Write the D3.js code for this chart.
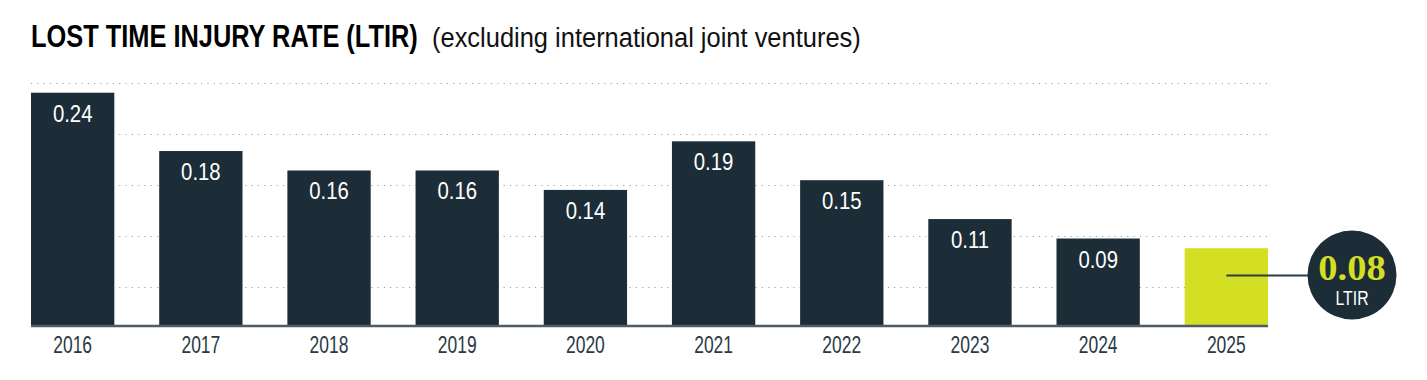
<!DOCTYPE html>
<html>
<head>
<meta charset="utf-8">
<script src="https://cdn.jsdelivr.net/npm/d3@7"></script>
<style>
  body { margin: 0; background: #fff; }
  svg { display: block; }
</style>
</head>
<body>
<div id="chart"></div>
<script>
const years = ["2016", "2017", "2018", "2019", "2020", "2021", "2022", "2023", "2024", "2025"];
const ltir = [0.24, 0.18, 0.16, 0.16, 0.14, 0.19, 0.15, 0.11, 0.09, 0.08];
const gridValues = [0.04, 0.0925, 0.145, 0.1975, 0.25];
const currentValue = "0.08";
const currentLabel = "LTIR";

const width = 1427, height = 380;
const sans = "'Liberation Sans', Arial, sans-serif";
const navy = "#1c2d37";
const lime = "#d4de22";

const svg = d3.select("#chart").append("svg")
    .attr("width", width)
    .attr("height", height);

// no condensed face installed: place text at (x,y) and squeeze it horizontally
function squeezed(parent, px, py, sx) {
    return parent.append("g")
        .attr("transform", `translate(${px},${py}) scale(${sx},1)`)
        .append("text");
}
// squeeze to an exact pixel width, anchored left
function fitWidth(parent, px, py, w, style) {
    const g = parent.append("g").attr("transform", `translate(${px},${py})`);
    const t = g.append("text").call(style);
    const len = t.node().getComputedTextLength();
    g.attr("transform", `translate(${px},${py}) scale(${w / len},1)`);
    return t;
}

// title
fitWidth(svg, 31, 47, 387, t => t
    .attr("font-family", sans)
    .attr("font-weight", "bold")
    .attr("font-size", 30.5)
    .attr("fill", "#000")
    .text("LOST TIME INJURY RATE (LTIR)"));
fitWidth(svg, 432, 47, 429, t => t
    .attr("font-family", sans)
    .attr("font-size", 28)
    .attr("fill", "#111")
    .text("(excluding international joint ventures)"));

const x = d3.scaleBand().domain(years).range([31, 1268]).paddingInner(0.35).paddingOuter(0);
const y = d3.scaleLinear().domain([0, 0.25]).range([326, 83]);

// dotted grid
svg.append("g")
    .selectAll("line")
    .data(gridValues)
    .join("line")
    .attr("x1", 31)
    .attr("x2", 1268)
    .attr("y1", d => Math.round(y(d)) + 0.5)
    .attr("y2", d => Math.round(y(d)) + 0.5)
    .attr("stroke", "#9aa3a8")
    .attr("stroke-width", 1)
    .attr("stroke-dasharray", "1.2 5.1");

// bars
svg.append("g")
    .selectAll("rect")
    .data(ltir)
    .join("rect")
    .attr("x", (d, i) => x(years[i]))
    .attr("y", d => y(d))
    .attr("width", x.bandwidth())
    .attr("height", d => y(0) - y(d))
    .attr("fill", (d, i) => i === years.length - 1 ? lime : navy);

// value labels (not on last bar)
svg.append("g")
    .selectAll("g")
    .data(ltir.slice(0, -1))
    .join("g")
    .attr("transform", (d, i) => `translate(${x(years[i]) + x.bandwidth() / 2},${y(d) + 29}) scale(0.83,1)`)
    .append("text")
    .attr("text-anchor", "middle")
    .attr("font-family", sans)
    .attr("font-size", 24.5)
    .attr("fill", "#fff")
    .text(d => d.toFixed(2));

// baseline axis
const xAxis = svg.append("g")
    .attr("transform", `translate(0,${y(0)})`)
    .call(d3.axisBottom(x).tickSize(0).tickPadding(11));
xAxis.select(".domain")
    .attr("d", `M31,0H1268`)
    .attr("stroke", "#4d5c65")
    .attr("stroke-width", 2.5);
xAxis.selectAll(".tick text")
    .attr("font-family", sans)
    .attr("font-size", 23)
    .attr("fill", "#2a3a44")
    .attr("transform", "scale(0.76,1)");

// callout for current year
const last = years[years.length - 1];
const cx = 1352, cy = 275;
svg.append("line")
    .attr("x1", x(last) + x.bandwidth() / 2)
    .attr("x2", cx - 44)
    .attr("y1", cy + 0.5)
    .attr("y2", cy + 0.5)
    .attr("stroke", "#2b3c46")
    .attr("stroke-width", 2);
svg.append("circle")
    .attr("cx", cx)
    .attr("cy", cy)
    .attr("r", 44.5)
    .attr("fill", navy);
squeezed(svg, cx, cy + 5, 1.1)
    .attr("text-anchor", "middle")
    .attr("font-family", "'Liberation Serif', 'Times New Roman', serif")
    .attr("font-weight", "bold")
    .attr("font-size", 35)
    .attr("fill", lime)
    .text(currentValue);
squeezed(svg, cx, cy + 30, 0.79)
    .attr("text-anchor", "middle")
    .attr("font-family", sans)
    .attr("font-size", 20)
    .attr("fill", "#fff")
    .text(currentLabel);
</script>
</body>
</html>
